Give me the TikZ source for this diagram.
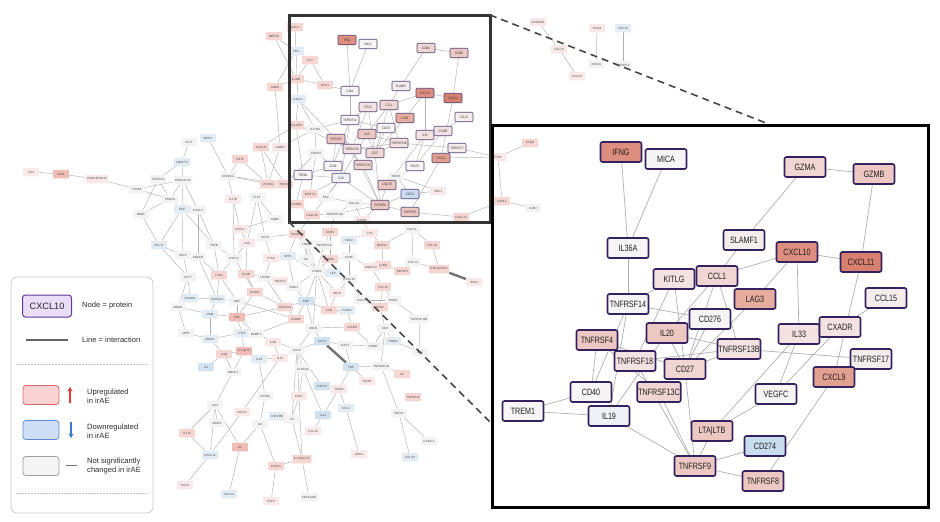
\documentclass[tikz,border=0pt]{standalone}
\usepackage{fontspec}
\setmainfont{Liberation Sans}
\newfontfamily\narrowfont[FakeStretch=0.78]{Liberation Sans}
\usetikzlibrary{arrows.meta}
\pgfdeclarelayer{bg}
\pgfsetlayers{bg,main}
% small network colours
\definecolor{cu0}{HTML}{F8E8E7}
\definecolor{cu1}{HTML}{F5D6D2}
\definecolor{cu2}{HTML}{F0BCB5}
\definecolor{cn}{HTML}{F4F3F4}
\definecolor{cd1}{HTML}{E3ECF3}
\definecolor{cd2}{HTML}{D2E2EE}
% panel colours
\definecolor{k1}{HTML}{D8806F}
\definecolor{k2}{HTML}{DE8E7E}
\definecolor{k3}{HTML}{E2A090}
\definecolor{k4}{HTML}{E6AC9E}
\definecolor{k5}{HTML}{EDC8C2}
\definecolor{k6}{HTML}{F0D6D2}
\definecolor{k7}{HTML}{F3E2E1}
\definecolor{k8}{HTML}{F5ECEC}
\definecolor{k9}{HTML}{F7F4F5}
\definecolor{kb1}{HTML}{EEF0F5}
\definecolor{kb2}{HTML}{CADDEE}
\definecolor{pborder}{HTML}{33225F}
\definecolor{edgec}{HTML}{B0B0B0}
\definecolor{legtext}{HTML}{2E2E2E}
\definecolor{lavfill}{HTML}{EADDF7}
\definecolor{lavdraw}{HTML}{5B3A9E}
\definecolor{upfill}{HTML}{FAD2D4}
\definecolor{updraw}{HTML}{E06666}
\definecolor{uparrow}{HTML}{E53935}
\definecolor{dnfill}{HTML}{CFDDF5}
\definecolor{dndraw}{HTML}{5B8DD9}
\definecolor{dnarrow}{HTML}{3A78D0}
\definecolor{nsfill}{HTML}{F5F5F5}
\definecolor{nsdraw}{HTML}{9E9E9E}
\tikzset{
  sn/.style={rectangle, rounded corners=0.8pt, minimum width=16pt, minimum height=8.5pt,
    inner xsep=1.5pt, inner ysep=0.5pt, font=\fontsize{3}{3.5}\selectfont, text=black!70},
  ne/.style={draw=edgec, line width=0.45pt},
  thickedge/.style={draw=black!55, line width=2.4pt},
  pn/.style={rectangle, draw=pborder, line width=1.6pt, rounded corners=2pt,
    minimum width=41pt, minimum height=20pt, inner sep=1pt,
    font=\narrowfont\fontsize{9.2}{10}\selectfont, text=black!88},
  pe/.style={draw=edgec, line width=0.7pt},
  inn/.style={rectangle, draw=pborder!85, line width=0.65pt, rounded corners=1pt,
    minimum width=18pt, minimum height=9.5pt, inner sep=0.6pt,
    font=\narrowfont\fontsize{3.4}{4}\selectfont, text=black!80},
  legtxt/.style={font=\fontsize{7.6}{9}\selectfont, text=legtext, align=left, anchor=west, inner sep=0pt},
  legbox/.style={rectangle, rounded corners=3pt, minimum width=36pt, minimum height=19pt, line width=0.8pt},
  zoomline/.style={draw=black!72, line width=1.6pt, dash pattern=on 7pt off 5pt},
}
\begin{document}
\begin{tikzpicture}[x=1pt,y=-1pt]
\useasboundingbox (0,0) rectangle (940,522);

% ---------------- small network nodes ----------------
\foreach \nm/\x/\y/\cl/\lb in {
 IL24/31/172/u0/IL24, IFNK/61/174/u2/IFNK, IFNA/97/179/u0/IFNA1|IFNA13,
 TGFB1/137/189/n/TGFB1, TNFSF13/158/179/n/TNFSF13, ANGPT1/182/162/d1/ANGPT1,
 FLT1/189/142/n/FLT1, MMP1/208/138/d1/MMP1, PDCD1LG2/183/180/n/PDCD1LG2,
 PDGFA/170/199/n/PDGFA, BDNF/141/214/n/BDNF, EGF/182/209/d1/EGF, CXCL3/198/210/n/CXCL3,
 CD40LG/228/176/n/CD40LG, IL17B/233/199/u0/IL17B, FLT4/257/197/n/FLT4,
 CNTF/240/159/u1/CNTF, CSF1R/261/147/u1/CSF1R, LAMP3/280/147/u0/LAMP3,
 VCAM1/268/184/u1/VCAM1, TNFSF8/285/184/u1/TNFSF8, MERTK/274/36/u1/MERTK,
 AGER/275/87/u1/AGER, CCL2/295/27/u1/CCL2, TEK/296/51/d1/TEK, IL27/310/60/u1/IL27,
 IL2RB/296/79/u1/IL2RB, NCR1/325/85/u1/NCR1, IL1RL1/298/99/d1/IL1RL1,
 HLADRA/296/125/u1/HLA-DRA, IL17RA/315/129/n/IL17RA, PDCD1/316/153/n/PDCD1,
 AGRP/275/219/n/AGRP, CXCL1/240/229/u0/CXCL1, CD70/265/237/n/CD70,
 TNFSF18/297/234/u1/TNFSF18, IL16/247/243/u0/IL16, TNFB/214/245/n/TNFB,
 CCL17/159/245/d1/CCL17, SELP/183/255/n/SELP, PDGFB/198/257/n/PDGFB,
 CXCL2/234/258/n/CXCL2, PTX3/271/258/u0/PTX3, SPP1/288/256/d1/SPP1,
 CST7/188/277/n/CST7, LCN2/219/275/u1/LCN2, IL12B/246/274/u1/IL12B,
 TGFB3/265/277/n/TGFB3, TNFSF4/280/281/u0/TNFSF4, IRAK1/294/287/n/IRAK1,
 KLRK1/255/292/u1/KLRK1, S100A8/190/298/d1/S100A8, S100A12/217/299/d1/S100A12,
 NGF/237/301/n/NGF, MMP8/178/307/n/MMP8, OSM/210/314/d1/OSM, MIF/237/317/u2/MIF,
 TNFSF14/285/307/u1/TNFSF14, IL18BP/296/319/u1/IL18BP, MPO/186/333/n/MPO,
 MMP9/210/339/d1/MMP9, CTF1/242/333/d1/CTF1, NAMPT/256/334/n/NAMPT,
 IL4R/273/342/u0/IL4R, IL1B/224/354/u1/IL1B, IL12p70/244/351/u2/IL12p70,
 CCL5/297/350/n/CCL5, IL18/259/359/d1/IL18, IL10/280/358/u0/IL10, IL4/206/367/d2/IL4,
 MBNL1/233/372/n/MBNL1, VSTM1/265/396/n/VSTM1, IL23/215/405/n/IL23,
 FGF23/242/412/u0/FGF23, CSF2RB/277/416/d1/CSF2RB, IL7/292/419/n/IL7,
 MMP3/217/423/n/MMP3, IL3/260/424/n/IL3, IL17A/187/433/u1/IL17A, IL2/240/447/u2/IL2,
 CXCL12/210/455/d1/CXCL12, FASLG/276/466/u1/FASLG, IL17AF/302/459/u1/IL17A|IL17F,
 CCL8/185/485/u0/CCL8, CCL24/229/494/d1/CCL24, CSF3/271/501/u0/CSF3,
 CEACAM5/309/497/n/CEACAM5, CLEC4A/303/369/n/CLEC4A, CSF1/299/396/u0/CSF1,
 CXCL6/322/386/d2/CXCL6, TIMP2/339/389/u0/TIMP2, IL34/323/415/d2/IL34,
 CCL28/313/431/u0/CCL28, CCL4/346/408/d1/CCL4, ARG1/359/454/u0/ARG1,
 TNF/351/367/d2/TNF, TNFRSF1B/381/366/n/TNFRSF1B, TAAR1/367/381/u0/TAAR1,
 LIF/402/374/u1/LIF, TNFSF11/413/397/u1/TNFSF11, FGF21/399/413/n/FGF21,
 CCL23/410/457/d1/CCL23, CX3CL1/429/441/n/CX3CL1,
 LGALS9/312/215/u1/LGALS9, TNFRSF11A/335/214/n/TNFRSF11A, IL18R1/362/220/u0/IL18R1,
 CD83/330/232/u1/CD83, FGF2/349/240/d1/FGF2, LTA/370/233/u0/LTA, CCL21/412/229/n/CCL21,
 TREM2/307/244/n/TREM2, TNFRSF1A/324/245/n/TNFRSF1A, MMP12/382/245/u1/MMP12,
 IL6/306/259/n/IL6, CD80/330/259/u1/CD80, CD46/349/257/n/CD46, CCL14/413/262/n/CCL14,
 IL2RA/383/265/u1/IL2RA, TNFSF9/402/271/u1/TNFSF9, ICAM1/317/271/n/ICAM1,
 LEP/333/273/d1/LEP, ANGPT2/371/267/u0/ANGPT2, CXCL16/349/279/n/CXCL16,
 CCL16/383/287/u1/CCL16, SELE/337/293/u0/SELE, CCL27/362/300/n/CCL27,
 TIMP1/393/300/n/TIMP1, CRP/306/301/d2/CRP, CD63/380/307/u1/CD63, IL6R/329/310/u1/IL6R,
 FURIN/347/310/d1/FURIN, TNFRSF11B/419/319/n/TNFRSF11B, MICB/313/328/n/MICB,
 IL15RA/352/327/u1/IL15RA, CD4/385/328/n/CD4, CCL3/322/341/d2/CCL3, GAST/345/345/n/GAST,
 OSMR/373/346/n/OSMR, THBS2/393/341/d1/THBS2, IL21/420/352/n/IL21,
 IFNL23/439/269/u1/IFNL2|IFNL3, IFNL1/474/282/u0/IFNL1, CCL19/432/245/u1/CCL19,
 WNT7A/310/194/u1/WNT7A, PGF/326/197/n/PGF, CALCA/354/203/n/CALCA,
 IL12RB1/296/204/u1/IL12RB1, SIRPA/396/176/n/SIRPA, SDC1/438/191/u0/SDC1,
 CXCL13/461/217/u1/CXCL13, FTH1/498/157/u0/FTH1, C1QA/530/143/u1/C1QA,
 VSNL1/502/201/u1/VSNL1, IL1R2/533/208/n/IL1R2, CD200R1/538/22/u0/CD200R1,
 CCL13/559/49/u0/CCL13, CCL22/577/76/u0/CCL22, IFNA2/597/28/u0/IFNA2,
 VEGFA/596/64/n/VEGFA, FGF19/623/28/d1/FGF19, TNFSF12/623/65/n/TNFSF12}
 \node[sn, fill=c\cl] (n\nm) at (\x,\y) {\lb};

% ---------------- inset (mini) nodes ----------------
\foreach \nm/\x/\y/\cl/\lb in {
 IFNG/347/40/k2/IFNG, MICA/368/44/k9/MICA, GZMA/426/48/k6/GZMA, GZMB/459/53/k5/GZMB,
 IL36A/350/91/k9/IL36A, SLAMF1/401/86/k8/SLAMF1, CXCL10/425/93/k2/CXCL10,
 CXCL11/453/98/k1/CXCL11, KITLG/368/107/k7/KITLG, CCL1/389/105/k6/CCL1,
 CCL15/464/117/k8/CCL15, LAG3/405/118/k4/LAG3, TNFRSF14/350/120/k9/TNFRSF14,
 CD276/386/128/k9/CD276, IL33/425/135/k7/IL33, CXADR/443/131/k7/CXADR,
 TNFRSF4/336/139/k5/TNFRSF4, IL20/367/134/k5/IL20, TNFRSF13B/399/143/k7/TNFRSF13B,
 TNFRSF17/457/148/k8/TNFRSF17, TNFRSF18/352/149/k7/TNFRSF18, CD27/375/153/k6/CD27,
 CXCL9/441/158/k3/CXCL9, CD40/333/166/k9/CD40, TNFRSF13C/363/165/k6/TNFRSF13C,
 TREM1/303/175/k9/TREM1, IL19/341/178/kb1/IL19, VEGFC/415/166/k9/VEGFC,
 LTALTB/387/185/k5/LTA|LTB, CD274/410/194/kb2/CD274, TNFRSF9/380/205/k5/TNFRSF9,
 TNFRSF8/410/212/k5/TNFRSF8}
 \node[inn, fill=\cl] (i\nm) at (\x,\y) {\lb};

% ---------------- zoom panel nodes ----------------
\foreach \nm/\x/\y/\cl/\lb in {
 IFNG/621/152/k2/IFNG, MICA/666/159/k9/MICA, GZMA/805/167/k6/GZMA, GZMB/874/174/k5/GZMB,
 IL36A/628/248/k9/IL36A, SLAMF1/744/240/k8/SLAMF1, CXCL10/797/252/k2/CXCL10,
 CXCL11/861/262/k1/CXCL11, KITLG/674/279/k7/KITLG, CCL1/717/276/k6/CCL1,
 LAG3/755/299/k4/LAG3, CCL15/886/298/k8/CCL15, TNFRSF14/628/304/k9/TNFRSF14,
 CD276/710/319/k9/CD276, IL33/799/334/k7/IL33, CXADR/840/327/k7/CXADR,
 TNFRSF4/597/340/k5/TNFRSF4, IL20/667/333/k5/IL20, TNFRSF13B/739/349/k7/TNFRSF13B,
 TNFRSF17/871/359/k8/TNFRSF17, TNFRSF18/635/361/k7/TNFRSF18, CD27/685/369/k6/CD27,
 CXCL9/834/377/k3/CXCL9, CD40/591/392/k9/CD40, TNFRSF13C/659/392/k6/TNFRSF13C,
 VEGFC/776/394/k9/VEGFC, TREM1/523/411/k9/TREM1, IL19/609/416/kb1/IL19,
 LTALTB/712/431/k5/LTA|LTB, CD274/765/446/kb2/CD274, TNFRSF9/695/466/k5/TNFRSF9,
 TNFRSF8/763/481/k5/TNFRSF8}
 \node[pn, fill=\cl] (p\nm) at (\x,\y) {\lb};

% ---------------- edges (background) ----------------
\begin{pgfonlayer}{bg}
\foreach \a/\b in {
 IL24/IFNK, IFNK/IFNA, IFNA/TGFB1, TGFB1/PDGFA, TGFB1/PDCD1LG2, TNFSF13/PDGFA, TNFSF13/BDNF,
 TNFSF13/ANGPT1, ANGPT1/FLT1, ANGPT1/PDCD1LG2, PDCD1LG2/PDGFA, PDCD1LG2/EGF, PDCD1LG2/CXCL3,
 PDGFA/BDNF, PDGFA/EGF, BDNF/CCL17, EGF/CCL17, EGF/CXCL3, EGF/SELP, EGF/TNFB, CXCL3/TNFB,
 CXCL3/PDGFB, CCL17/CST7, CCL17/SELP, MMP1/CD40LG, CNTF/CD40LG, CNTF/VCAM1, CSF1R/VCAM1,
 CSF1R/TNFSF8, LAMP3/VCAM1, LAMP3/AGER, AGER/TEK, AGER/IL2RB, MERTK/IL2RB, CD40LG/VCAM1,
 CD40LG/IL17B, CD40LG/TNFSF8, IL17B/CXCL1, IL17B/CXCL2, FLT4/AGRP, FLT4/CD70, FLT4/IL16,
 AGRP/CXCL1, CXCL1/IL16, CD70/PTX3, CD70/TNFSF18, IL16/CXCL2, IL16/IL12B, TNFB/CXCL2,
 TNFB/LCN2, SELP/PDGFB, SELP/CST7, PDGFB/LCN2, PDGFB/S100A12, CXCL2/LCN2, CXCL2/KLRK1,
 PTX3/SPP1, PTX3/TGFB3, SPP1/ICAM1, SPP1/IRAK1, CST7/S100A8, CST7/MMP8, LCN2/S100A12,
 LCN2/NGF, IL12B/TGFB3, IL12B/KLRK1, TGFB3/IRAK1, TGFB3/TNFSF14, TNFSF4/IRAK1, IRAK1/ICAM1,
 IRAK1/CRP, KLRK1/TNFSF14, KLRK1/MIF, S100A8/S100A12, S100A8/MMP8, S100A12/NGF, S100A12/OSM,
 NGF/MIF, NGF/IL18BP, MMP8/OSM, MMP8/MPO, OSM/MIF, OSM/MMP9, MIF/CTF1, MIF/NAMPT, MIF/TNFSF14,
 TNFSF14/IL18BP, TNFSF14/CRP, IL18BP/CRP, IL18BP/NAMPT, MPO/MMP9, MMP9/CTF1, MMP9/IL1B,
 CTF1/IL12p70, CTF1/NAMPT, NAMPT/IL4R, NAMPT/CCL5, IL4R/IL10, IL1B/IL12p70, IL1B/IL4,
 IL1B/MBNL1, IL12p70/IL18, IL12p70/MBNL1, IL18/VSTM1, IL18/IL10, IL10/CCL5, IL10/FGF23,
 MBNL1/IL23, IL23/IL17A, IL23/CXCL12, IL23/IL2, IL23/MMP3, VSTM1/IL3, FGF23/CXCL12, IL3/IL2,
 IL3/CSF2RB, IL3/FASLG, CSF2RB/IL7, IL7/CSF1, IL7/CCL5, IL7/IL17AF, IL2/CCL24, CXCL12/CCL8,
 CXCL12/IL17A, FASLG/CSF3, FASLG/IL17AF, IL17AF/CEACAM5, IL17AF/CSF1, CLEC4A/CCL5,
 CLEC4A/IL34, CLEC4A/CSF1, CSF1/CCL5, CCL28/IL34, IL34/TIMP2, TIMP2/CCL4, TIMP2/TNF,
 TNF/TNFRSF1B, TNF/TAAR1, TNFRSF1B/LIF, TNFRSF1B/FGF21, TNFRSF1B/CD4, CCL4/ARG1,
 FGF21/CCL23, FGF21/CX3CL1, CXCL6/CCL5, TNF/GAST,
 LGALS9/TNFSF18, LGALS9/IL12RB1, TNFSF18/TREM2, TNFSF18/SPP1, TNFSF18/ICAM1, TREM2/ICAM1,
 TNFRSF1A/ICAM1, CD83/TNFRSF1A, CD83/CD80, CD83/TNFRSF11A, FGF2/CD46, FGF2/LTA, LTA/MMP12,
 LTA/IL18R1, CCL21/CCL19, CCL21/CCL14, CCL21/MMP12, IL6/ICAM1, IL6/TREM2, CD80/ICAM1,
 CD80/CD46, CD46/CXCL16, CD46/ANGPT2, ANGPT2/IL2RA, IL2RA/TNFSF9, IL2RA/MMP12, TNFSF9/CCL14,
 CCL14/IFNL23, CCL19/IFNL23, ICAM1/LEP, ICAM1/SELE, ICAM1/CRP, ICAM1/MICB, ICAM1/IL6R,
 LEP/CXCL16, CXCL16/CCL27, CXCL16/SELE, CCL16/TIMP1, CCL16/CD63, CCL16/ANGPT2, SELE/IL6R,
 CCL27/CD63, CCL27/TIMP1, CD63/CD4, CRP/IL6R, CRP/MICB, IL6R/FURIN, FURIN/IL15RA,
 IL15RA/OSMR, IL15RA/MICB, CD4/OSMR, CD4/THBS2, THBS2/IL21, TIMP1/TNFRSF11B, MICB/CCL3,
 MICB/CCL5, CCL3/GAST, GAST/OSMR, CCL3/CCL5, TNFRSF11B/IL21,
 CCL2/TEK, TEK/IL1RL1, IL27/IL2RB, IL27/NCR1, IL2RB/NCR1, IL1RL1/HLADRA, IL1RL1/IL17RA,
 HLADRA/IL17RA, IL17RA/PDCD1, PDCD1/WNT7A, WNT7A/PGF, WNT7A/IL12RB1, PGF/CALCA,
 TNFRSF11A/CALCA, TNFRSF11A/LGALS9, IL18R1/CALCA, SIRPA/SDC1, CXCL13/VSNL1, FTH1/C1QA,
 FTH1/VSNL1, VSNL1/IL1R2, CD200R1/CCL13, CCL13/CCL22, IFNA2/VEGFA, FGF19/TNFSF12,
 HLADRA/CSF1R, IL17RA/LAMP3, PDCD1/TNFSF8, MERTK/TEK}
 \draw[ne] (n\a) -- (n\b);
\foreach \a/\b in {
 IL1RL1/TNFRSF4, HLADRA/TNFRSF18, IL17RA/TNFRSF14, PDCD1/CD40, WNT7A/IL19, PGF/IL19,
 CALCA/TNFRSF9, SIRPA/LTALTB, SIRPA/CD274, SDC1/CD274, NCR1/IL36A, CXCL13/TNFRSF8,
 IL18R1/TNFRSF9, TNFRSF11A/TNFRSF9, IL12RB1/TREM1, FTH1/CXCL9, FTH1/TNFRSF17,
 LGALS9/IL19, HLADRA/TREM1}
 \draw[ne] (n\a) -- (i\b);
\foreach \a/\b in {
 IFNG/IL36A, MICA/IL36A, GZMA/GZMB, GZMA/SLAMF1, GZMB/CXCL11, SLAMF1/CCL1, CXCL10/CXCL11,
 CXCL10/CCL1, CXCL10/LAG3, CXCL10/IL33, CXCL11/CXCL9, CCL15/CXADR, IL36A/TNFRSF14,
 KITLG/TNFRSF14, KITLG/CD27, KITLG/TNFRSF18, CCL1/IL20, CCL1/CD27, CCL1/TNFRSF13B,
 TNFRSF14/CD276, TNFRSF14/CD40, TNFRSF14/IL19, CD276/CD27, LAG3/CD27, IL20/TNFRSF13B,
 IL20/IL19, IL20/CD27, TNFRSF4/TNFRSF18, TNFRSF4/CD27, TNFRSF4/CD40, TNFRSF4/TNFRSF13C,
 TNFRSF18/TNFRSF9, TNFRSF18/TNFRSF13B, TNFRSF13B/TNFRSF17, CD27/TNFRSF13B, CD27/TNFRSF9,
 TNFRSF13C/TNFRSF9, IL19/TNFRSF9, TREM1/CD40, TREM1/IL19, IL33/VEGFC, IL33/LTALTB,
 CXADR/VEGFC, LTALTB/VEGFC, LTALTB/TNFRSF9, CD274/TNFRSF9, TNFRSF9/TNFRSF8, CXCL9/TNFRSF8}
 {\draw[pe] (p\a) -- (p\b);
  \draw[ne] (i\a) -- (i\b);}
\draw[thickedge] (nIFNL23) -- (nIFNL1);
\draw[thickedge] (nCCL3) -- (nTNF);
\end{pgfonlayer}

% ---------------- inset frame, panel frame and zoom lines ----------------
\coordinate (insTL) at (289,15);
\coordinate (insTR) at (490,15);
\coordinate (insBL) at (289,222);
\coordinate (insBR) at (490,222);
\coordinate (panTL) at (492,125);
\coordinate (panBR) at (928,507);
\coordinate (panTop) at (766,123);
\coordinate (panLeft) at (492,424);
\draw[draw=black!80, line width=3pt] (insTL) rectangle (insBR);
\draw[black, line width=3pt] (panTL) rectangle (panBR);
\draw[zoomline] (insTR) -- (panTop);
\draw[zoomline] (insBL) -- (panLeft);

% ---------------- legend ----------------
\coordinate (legTL) at (11,277);
\coordinate (legBR) at (153,513);
\draw[draw=black!22, line width=0.7pt, rounded corners=6pt, fill=white] (legTL) rectangle (legBR);
\node[rectangle, rounded corners=3pt, fill=lavfill, draw=lavdraw, line width=1pt,
      minimum width=49pt, minimum height=22pt, font=\fontsize{9.2}{10}\selectfont, text=black!85]
      (legnode) at (47,306) {CXCL10};
\node[legtxt] (legnodetxt) at (82,306) {Node = protein};
\coordinate (legL1) at (26,340);
\coordinate (legL2) at (68,340);
\draw[draw=black!60, line width=2pt] (legL1) -- (legL2);
\node[legtxt] (leglinetxt) at (82,340) {Line = interaction};
\coordinate (sep1a) at (16,364);
\coordinate (sep1b) at (148,364);
\draw[draw=black!25, line width=0.6pt, dash pattern=on 1.5pt off 1.5pt] (sep1a) -- (sep1b);
\node[legbox, fill=upfill, draw=updraw] (legup) at (41,395) {};
\coordinate (uaB) at (70,403);
\coordinate (uaT) at (70,387);
\draw[draw=uparrow, line width=1.1pt, -{Stealth[length=4.5pt,width=5pt]}] (uaB) -- (uaT);
\node[legtxt] (leguptxt) at (87,396) {Upregulated\\in irAE};
\node[legbox, fill=dnfill, draw=dndraw] (legdn) at (41,430) {};
\coordinate (daT) at (71,422);
\coordinate (daB) at (71,438);
\draw[draw=dnarrow, line width=1.1pt, -{Stealth[length=4.5pt,width=5pt]}] (daT) -- (daB);
\node[legtxt] (legdntxt) at (87,431) {Downregulated\\in irAE};
\node[legbox, fill=nsfill, draw=nsdraw] (legns) at (41,466) {};
\coordinate (nsA) at (66,465);
\coordinate (nsB) at (77,465);
\draw[draw=black!55, line width=0.9pt] (nsA) -- (nsB);
\node[legtxt] (legnstxt) at (87,466) {Not significantly\\changed in irAE};
\coordinate (sep2a) at (16,493);
\coordinate (sep2b) at (148,493);
\draw[draw=black!25, line width=0.6pt, dash pattern=on 1.5pt off 1.5pt] (sep2a) -- (sep2b);
\end{tikzpicture}
\end{document}
